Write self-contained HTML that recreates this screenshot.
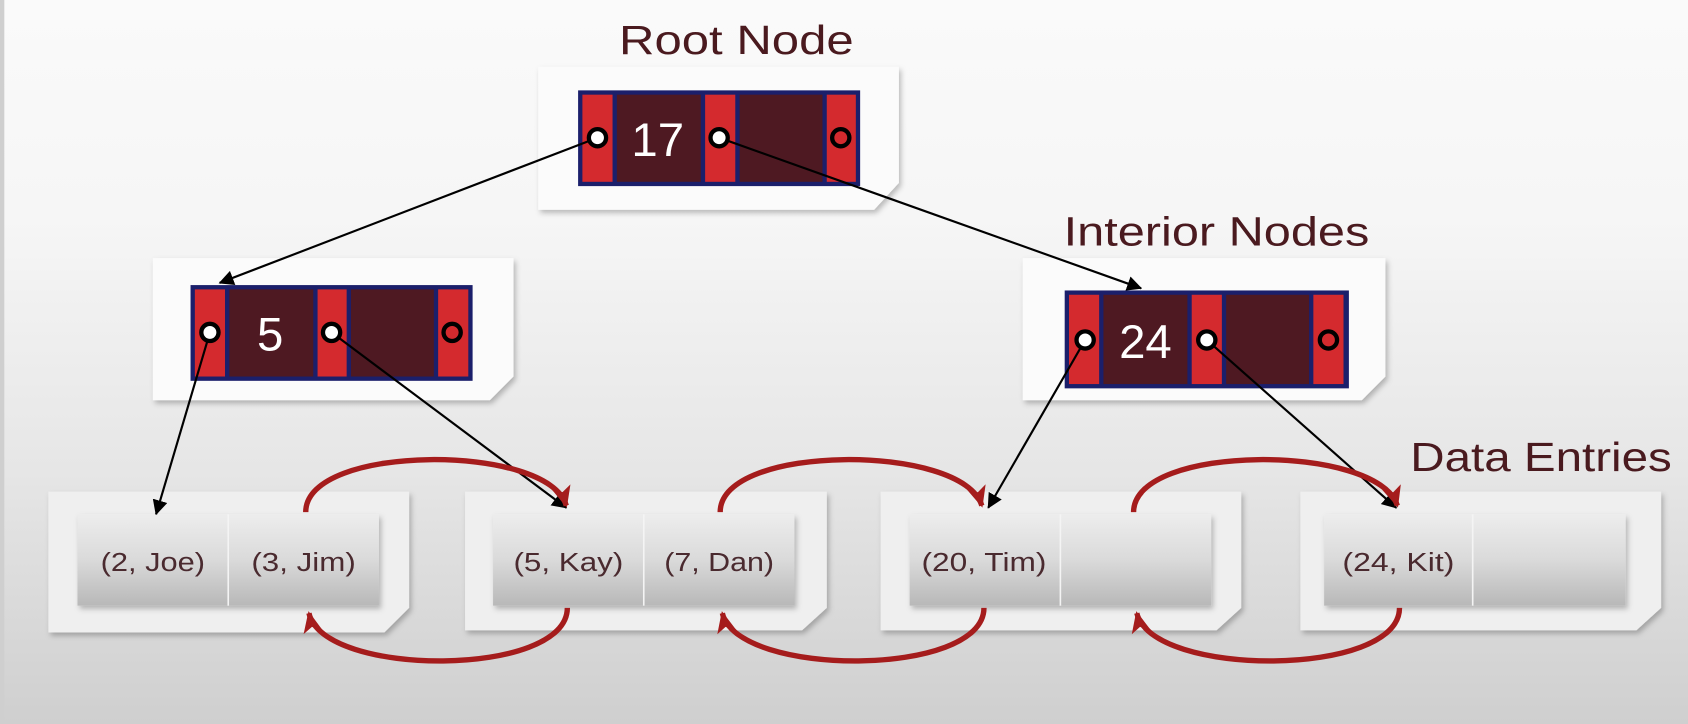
<!DOCTYPE html>
<html><head><meta charset="utf-8"><style>
html,body{margin:0;padding:0;width:1688px;height:724px;overflow:hidden;background:#e8e8e8}
svg{display:block}
text{font-family:"Liberation Sans",sans-serif}
</style></head><body>
<svg width="1688" height="724" viewBox="0 0 1568 673" preserveAspectRatio="none" xmlns="http://www.w3.org/2000/svg">
<defs>
<linearGradient id="bg" x1="0" y1="0" x2="0" y2="1">
<stop offset="0" stop-color="#fafafa"/><stop offset="0.3" stop-color="#f6f6f6"/><stop offset="0.65" stop-color="#e6e6e6"/><stop offset="1" stop-color="#cfcfcf"/></linearGradient>
<linearGradient id="cell" x1="0" y1="0" x2="0" y2="1">
<stop offset="0" stop-color="#ededed"/><stop offset="0.5" stop-color="#dadada"/><stop offset="1" stop-color="#b8b8b8"/></linearGradient>
<filter id="sh" x="-10%" y="-10%" width="130%" height="130%"><feDropShadow dx="2" dy="3" stdDeviation="2.5" flood-color="#000" flood-opacity="0.25"/></filter>
<marker id="ab" markerWidth="14" markerHeight="14" refX="13" refY="7" orient="auto" markerUnits="userSpaceOnUse"><path d="M0,0 L14,7 L0,14 z" fill="#000"/></marker>
<marker id="ar" markerWidth="22" markerHeight="20" refX="18" refY="10" orient="auto" markerUnits="userSpaceOnUse"><path d="M0,1 L20,10 L0,19 L5,10 z" fill="#a51c1c"/></marker>
</defs>
<rect width="1568" height="673" fill="url(#bg)"/>
<rect x="0" y="0" width="4" height="673" fill="#cfcfcf"/>

<text x="575" y="50" font-size="38" fill="#4a1a1f" textLength="218" lengthAdjust="spacingAndGlyphs">Root Node</text>
<text x="988" y="228" font-size="38" fill="#4a1a1f" textLength="284" lengthAdjust="spacingAndGlyphs">Interior Nodes</text>
<text x="1310" y="438" font-size="38" fill="#4a1a1f" textLength="243" lengthAdjust="spacingAndGlyphs">Data Entries</text>

<g filter="url(#sh)" fill="#fbfbfb">
<path d="M500,62 H835 V170 L812,195 H500 Z"/>
<path d="M142,240 H477 V350 L455,372 H142 Z"/>
<path d="M950,240 H1287 V350 L1265,372 H950 Z"/>
</g>
<g filter="url(#sh)" fill="#efefef">
<path d="M45,457 H380 V565 L357,588 H45 Z"/>
<path d="M432,457 H768 V565 L745,586 H432 Z"/>
<path d="M818,457 H1153 V565 L1130,586 H818 Z"/>
<path d="M1208,457 H1543 V565 L1520,586 H1208 Z"/>
</g>

<g>
<rect x="537" y="84" width="262" height="89" fill="#1b1f6b"/>
<rect x="541" y="88" width="28" height="81" fill="#d42a2e"/>
<rect x="573" y="88" width="78" height="81" fill="#4e1922"/>
<rect x="655" y="88" width="28" height="81" fill="#d42a2e"/>
<rect x="687" y="88" width="77" height="81" fill="#4e1922"/>
<rect x="768" y="88" width="27" height="81" fill="#d42a2e"/>
<text x="611" y="145" font-size="44" fill="#fff" text-anchor="middle">17</text>
</g>
<g>
<rect x="177" y="265" width="262" height="89" fill="#1b1f6b"/>
<rect x="181" y="269" width="28" height="81" fill="#d42a2e"/>
<rect x="213" y="269" width="78" height="81" fill="#4e1922"/>
<rect x="295" y="269" width="27" height="81" fill="#d42a2e"/>
<rect x="326" y="269" width="77" height="81" fill="#4e1922"/>
<rect x="407" y="269" width="28" height="81" fill="#d42a2e"/>
<text x="251" y="326" font-size="44" fill="#fff" text-anchor="middle">5</text>
</g>
<g>
<rect x="989" y="270" width="264" height="91" fill="#1b1f6b"/>
<rect x="993" y="274" width="28" height="83" fill="#d42a2e"/>
<rect x="1025" y="274" width="78" height="83" fill="#4e1922"/>
<rect x="1107" y="274" width="28" height="83" fill="#d42a2e"/>
<rect x="1139" y="274" width="77" height="83" fill="#4e1922"/>
<rect x="1220" y="274" width="28" height="83" fill="#d42a2e"/>
<text x="1064" y="333" font-size="44" fill="#fff" text-anchor="middle">24</text>
</g>

<g filter="url(#sh)" fill="url(#cell)">
<rect x="72" y="478" width="140" height="85"/><rect x="212" y="478" width="140" height="85"/>
<rect x="458" y="478" width="140" height="85"/><rect x="598" y="478" width="140" height="85"/>
<rect x="845" y="478" width="140" height="85"/><rect x="985" y="478" width="140" height="85"/>
<rect x="1230" y="478" width="138" height="85"/><rect x="1368" y="478" width="142" height="85"/>
</g>
<g stroke="#f4f4f4" stroke-width="1.5"><line x1="212" y1="478" x2="212" y2="563"/><line x1="598" y1="478" x2="598" y2="563"/><line x1="985" y1="478" x2="985" y2="563"/><line x1="1368" y1="478" x2="1368" y2="563"/></g>
<g font-size="24" fill="#4a2a2f" text-anchor="middle" lengthAdjust="spacingAndGlyphs">
<text x="142" y="531" textLength="97" lengthAdjust="spacingAndGlyphs">(2, Joe)</text>
<text x="282" y="531" textLength="97" lengthAdjust="spacingAndGlyphs">(3, Jim)</text>
<text x="528" y="531" textLength="102" lengthAdjust="spacingAndGlyphs">(5, Kay)</text>
<text x="668" y="531" textLength="102" lengthAdjust="spacingAndGlyphs">(7, Dan)</text>
<text x="914" y="531" textLength="116" lengthAdjust="spacingAndGlyphs">(20, Tim)</text>
<text x="1299" y="531" textLength="104" lengthAdjust="spacingAndGlyphs">(24, Kit)</text>
</g>

<g stroke="#000" stroke-width="2" marker-end="url(#ab)">
<line x1="555" y1="128" x2="204" y2="263"/>
<line x1="668" y1="128" x2="1060" y2="268"/>
<line x1="195" y1="309" x2="145" y2="478"/>
<line x1="308" y1="309" x2="526" y2="472"/>
<line x1="1008" y1="316" x2="918" y2="472"/>
<line x1="1121" y1="316" x2="1297" y2="472"/>
</g>

<g stroke="#000" stroke-width="4">
<circle cx="555" cy="128" r="8" fill="#fff"/><circle cx="668" cy="128" r="8" fill="#fff"/><circle cx="781" cy="128" r="8" fill="#d42a2e"/>
<circle cx="195" cy="309" r="8" fill="#fff"/><circle cx="308" cy="309" r="8" fill="#fff"/><circle cx="420" cy="309" r="8" fill="#d42a2e"/>
<circle cx="1008" cy="316" r="8" fill="#fff"/><circle cx="1121" cy="316" r="8" fill="#fff"/><circle cx="1234" cy="316" r="8" fill="#d42a2e"/>
</g>

<g stroke="#a51c1c" stroke-width="5" fill="none" marker-end="url(#ar)">
<path d="M284,476 C284,412 510,412 526,470"/>
<path d="M669,476 C669,412 895,412 912,470"/>
<path d="M1053,476 C1053,412 1280,412 1298,470"/>
<path d="M527,565 C527,630 300,630 287,570"/>
<path d="M914,565 C914,630 685,630 671,570"/>
<path d="M1300,565 C1300,630 1070,630 1056,570"/>
</g>
</svg>
</body></html>
